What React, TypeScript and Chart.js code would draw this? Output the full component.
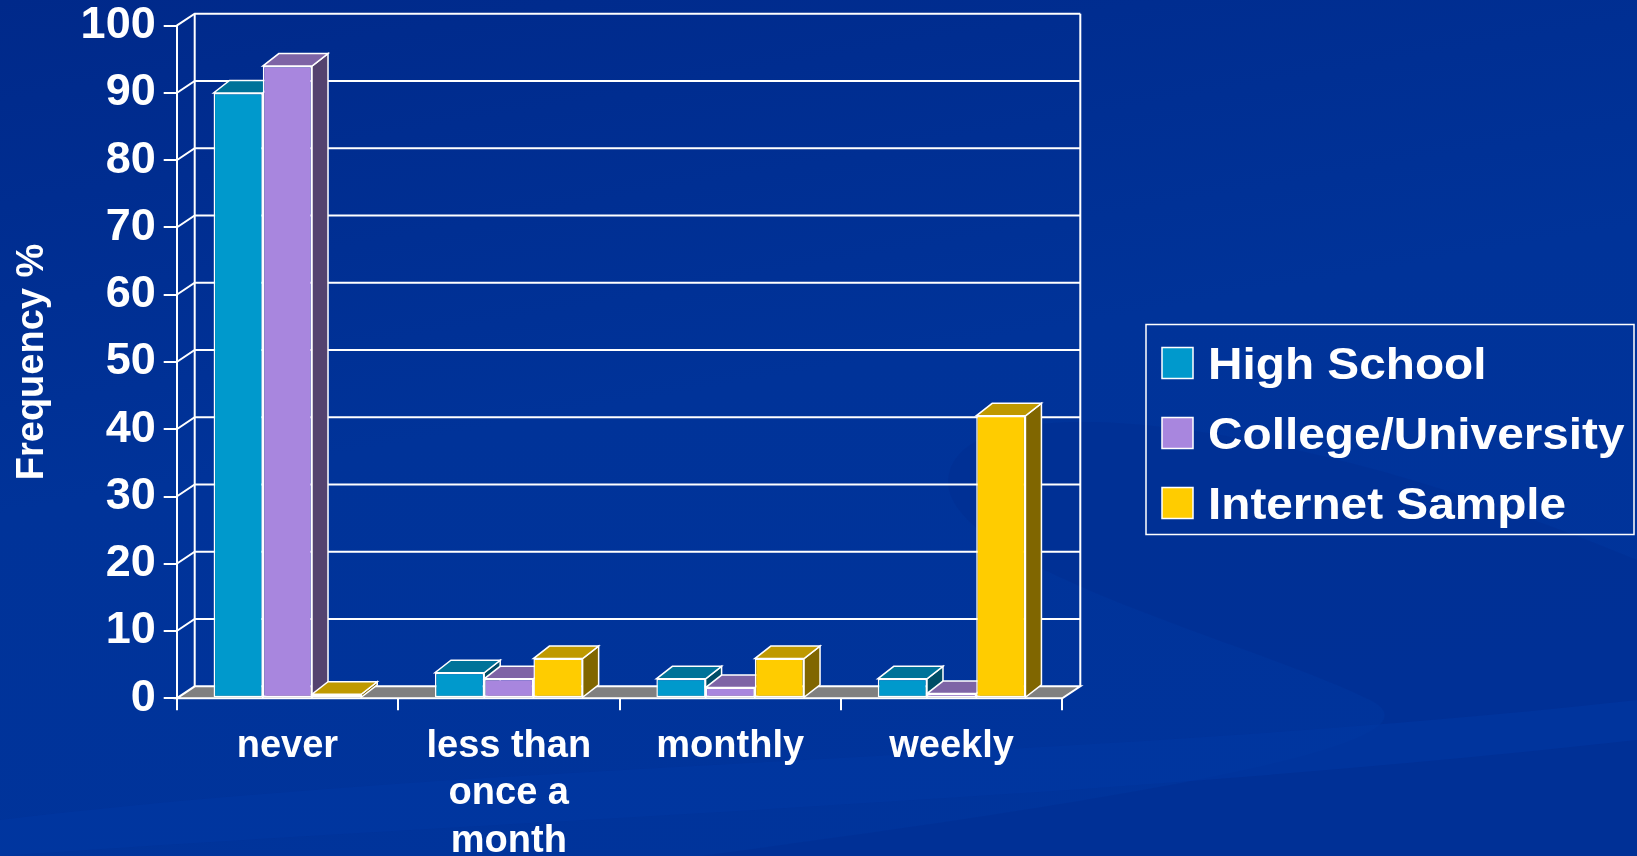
import React, { useEffect, useRef } from "react";
import { Chart, registerables } from "chart.js";

Chart.register(...registerables);

// ---- data ----
const categories: (string | string[])[] = ["never", ["less than", "once a", "month"], "monthly", "weekly"];
const seriesNames = ["High School", "College/University", "Internet Sample"];
const highSchool = [90, 3.8, 2.9, 2.9];
const college = [94, 2.9, 1.6, 0.7];
const internet = [0.6, 5.9, 5.9, 42];
const yMin = 0;
const yMax = 100;
const yStep = 10;
const yTitle = "Frequency %";

// ---- styles ----
const FONT = "'Liberation Sans', Arial, Helvetica, sans-serif";
const frontColors = ["#0099CC", "#A886DE", "#FFCC00"];
const topColors = ["#007399", "#7E64A6", "#BF9900"];
const sideColors = ["#004D66", "#54436F", "#806600"];
const WALL = { dx: 18, dy: -12 };
const BAR = { dx: 16, dy: -12.5 };
const LINE = 2;

const threeD = {
  id: "threeD",
  beforeDatasetsDraw(chart: any) {
    const { ctx, chartArea } = chart;
    const { left, right, top, bottom } = chartArea;
    const y = chart.scales.y;
    ctx.save();
    ctx.strokeStyle = "#ffffff";
    ctx.lineWidth = LINE;
    ctx.lineJoin = "miter";
    // floor
    ctx.fillStyle = "#808080";
    ctx.beginPath();
    ctx.moveTo(left, bottom);
    ctx.lineTo(right, bottom);
    ctx.lineTo(right + WALL.dx, bottom + WALL.dy);
    ctx.lineTo(left + WALL.dx, bottom + WALL.dy);
    ctx.closePath();
    ctx.fill();
    ctx.stroke();
    // grid lines on side wall + back wall
    y.ticks.forEach((t: any) => {
      if (t.value <= yMin) return;
      const py = y.getPixelForValue(t.value);
      ctx.beginPath();
      ctx.moveTo(left, py);
      ctx.lineTo(left + WALL.dx, py + WALL.dy);
      ctx.lineTo(right + WALL.dx, py + WALL.dy);
      ctx.stroke();
    });
    ctx.beginPath();
    ctx.moveTo(left + WALL.dx, top + WALL.dy);
    ctx.lineTo(left + WALL.dx, bottom + WALL.dy);
    ctx.moveTo(right + WALL.dx, top + WALL.dy);
    ctx.lineTo(right + WALL.dx, bottom + WALL.dy);
    ctx.stroke();
    // bar sides & tops
    ctx.lineWidth = 1.5;
    const n = chart.data.labels.length;
    for (let i = 0; i < n; i++) {
      chart.data.datasets.forEach((_ds: any, d: number) => {
        const el = chart.getDatasetMeta(d).data[i];
        if (!el) return;
        const p = el.getProps(["x", "y", "width", "base"], true);
        const x0 = p.x - p.width / 2;
        const x1 = p.x + p.width / 2;
        const yt = p.y;
        const yb = p.base;
        // side
        ctx.fillStyle = sideColors[d];
        ctx.beginPath();
        ctx.moveTo(x1, yt);
        ctx.lineTo(x1 + BAR.dx, yt + BAR.dy);
        ctx.lineTo(x1 + BAR.dx, yb + BAR.dy);
        ctx.lineTo(x1, yb);
        ctx.closePath();
        ctx.fill();
        ctx.stroke();
        // top
        ctx.fillStyle = topColors[d];
        ctx.beginPath();
        ctx.moveTo(x0, yt);
        ctx.lineTo(x1, yt);
        ctx.lineTo(x1 + BAR.dx, yt + BAR.dy);
        ctx.lineTo(x0 + BAR.dx, yt + BAR.dy);
        ctx.closePath();
        ctx.fill();
        ctx.stroke();
      });
    }
    ctx.restore();
  },
};

const boxLegend = {
  id: "boxLegend",
  afterDraw(chart: any) {
    const { ctx } = chart;
    const bx = 1146, by = 324.5, bw = 488, bh = 210;
    ctx.save();
    ctx.strokeStyle = "#ffffff";
    ctx.lineWidth = 1.5;
    ctx.strokeRect(bx, by, bw, bh);
    chart.data.datasets.forEach((ds: any, i: number) => {
      const cy = 363 + i * 70;
      ctx.fillStyle = ds.backgroundColor;
      ctx.fillRect(1162, cy - 15.5, 31, 31);
      ctx.strokeRect(1162, cy - 15.5, 31, 31);
      ctx.save();
      ctx.translate(1208, cy + 16);
      ctx.scale(1.085, 1);
      ctx.fillStyle = "#ffffff";
      ctx.font = `bold 44px ${FONT}`;
      ctx.textBaseline = "alphabetic";
      ctx.textAlign = "left";
      ctx.fillText(ds.label, 0, 0);
      ctx.restore();
    });
    ctx.restore();
  },
};

export default function App() {
  const ref = useRef<HTMLCanvasElement | null>(null);
  useEffect(() => {
    if (!ref.current) return;
    const chart = new Chart(ref.current, {
      type: "bar",
      data: {
        labels: categories as any,
        datasets: [highSchool, college, internet].map((vals, i) => ({
          label: seriesNames[i],
          data: vals,
          backgroundColor: frontColors[i],
          borderColor: "#ffffff",
          borderWidth: 1.5,
          borderSkipped: false,
          barPercentage: 1,
          categoryPercentage: 0.667,
        })),
      },
      options: {
        animation: false,
        responsive: false,
        devicePixelRatio: 1,
        layout: { autoPadding: false, padding: { left: 0, right: 574.7, top: 25.7, bottom: 0 } } as any,
        plugins: { legend: { display: false }, tooltip: { enabled: false } },
        scales: {
          x: {
            offset: true,
            grid: { display: true, drawOnChartArea: false, drawTicks: true, tickLength: 12, color: "#ffffff", lineWidth: LINE, offset: true },
            border: { display: true, color: "#ffffff", width: LINE },
            ticks: {
              color: "#ffffff",
              font: { family: FONT, size: 38, weight: "bold", lineHeight: 1.24 },
              padding: 13,
              maxRotation: 0,
              autoSkip: false,
            },
            afterFit: (s: any) => {
              s.height = 157.7;
              s.paddingLeft = 0;
              s.paddingRight = 0;
            },
          },
          y: {
            min: yMin,
            max: yMax,
            ticks: {
              stepSize: yStep,
              color: "#ffffff",
              font: { family: FONT, size: 45, weight: "bold", lineHeight: 1 },
              padding: 8,
            },
            grid: { display: true, drawOnChartArea: false, drawTicks: true, tickLength: 13, color: "#ffffff", lineWidth: LINE },
            border: { display: true, color: "#ffffff", width: LINE },
            title: {
              display: true,
              text: yTitle,
              color: "#ffffff",
              font: { family: FONT, size: 38, weight: "bold" },
              padding: { top: 10, bottom: 0 },
            },
            afterFit: (s: any) => {
              s.width = 176.7;
              s.paddingTop = 0;
              s.paddingBottom = 0;
            },
          },
        },
      } as any,
      plugins: [threeD, boxLegend],
    });
    return () => chart.destroy();
  }, []);
  return (
    <div
      style={{
        position: "fixed",
        left: 0,
        top: 0,
        width: 1637,
        height: 856,
        overflow: "hidden",
        background: "linear-gradient(170deg, #00298a 0%, #003399 45%, #00349c 100%)",
      }}
    >
      <svg width={1637} height={856} style={{ position: "absolute", left: 0, top: 0 }}>
        <path d="M1637 560 C 1300 420, 980 380, 950 470 C 920 560, 1250 640, 1370 700 C 1450 740, 1200 790, 700 856 L 1637 856 Z" fill="#002f92" opacity="0.6" />
        <path d="M0 820 C 500 760, 1100 760, 1637 700 L 1637 740 C 1100 800, 500 820, 0 856 Z" fill="#0038a3" opacity="0.5" />
      </svg>
      <canvas ref={ref} width={1637} height={856} style={{ position: "relative", display: "block", width: 1637, height: 856 }} />
    </div>
  );
}
